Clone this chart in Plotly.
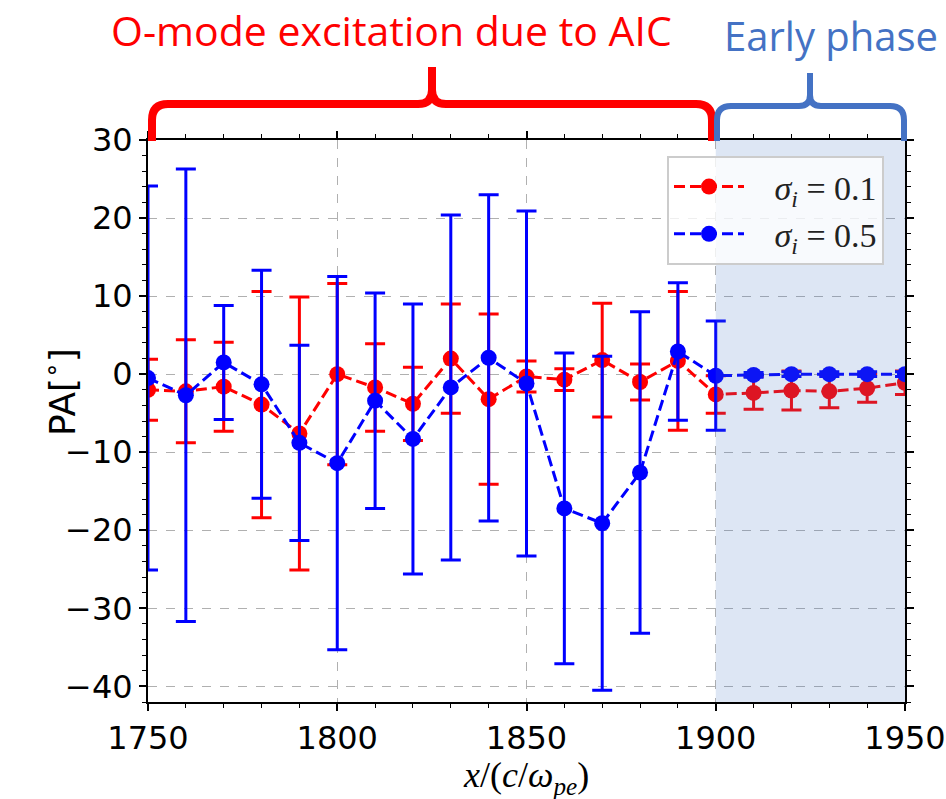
import plotly.graph_objects as go

# ---------------- data ----------------
x_pos = [1750, 1760, 1770, 1780, 1790, 1800, 1810, 1820, 1830, 1840, 1850,
         1860, 1870, 1880, 1890, 1900, 1910, 1920, 1930, 1940, 1950]

pa_sigma01 = [-2.0, -2.2, -1.6, -3.9, -7.6, 0.0, -1.7, -3.8, 2.0, -3.2, -0.3,
              -0.7, 1.8, -1.0, 1.7, -2.6, -2.4, -2.1, -2.2, -1.8, -1.1]
err_sigma01 = [3.9, 6.6, 5.7, 14.5, 17.5, 11.6, 5.6, 4.7, 7.0, 10.9, 2.0,
               1.4, 7.3, 2.3, 8.9, 2.4, 2.1, 2.5, 2.1, 1.8, 1.5]

pa_sigma05 = [-0.5, -2.7, 1.5, -1.3, -8.8, -11.4, -3.4, -8.3, -1.7, 2.1, -1.2,
              -17.2, -19.1, -12.6, 2.9, -0.2, -0.1, 0.0, 0.0, 0.0, 0.0]
err_sigma05 = [24.6, 29.0, 7.3, 14.6, 12.5, 23.9, 13.8, 17.3, 22.1, 20.9, 22.1,
               19.9, 21.4, 20.6, 8.8, 7.0, 0.3, 0.3, 0.3, 0.3, 0.3]

NB = "\u00a0"
series_names = [f"{NB}{NB}{NB}<i>σ</i><sub><i>i</i></sub>{NB}={NB}0.1",
                f"{NB}{NB}{NB}<i>σ</i><sub><i>i</i></sub>{NB}={NB}0.5"]
x_ticks = [1750, 1800, 1850, 1900, 1950]
y_ticks = [-40, -30, -20, -10, 0, 10, 20, 30]
aic_label = "O-mode excitation due to AIC"
early_label = "Early phase"
aic_range = [1750, 1900]
early_range = [1900, 1950]

# ---------------- layout geometry ----------------
W, H = 946, 799
L, R, T, B = 148, 905, 140, 702


def pxp(xp):
    return (xp - L) / (R - L)


def pyp(yp):
    return (B - yp) / (B - T)


def brace(x0, xm, x1, yh, ytop, ybot, r, rm):
    pts = []
    pts.append(f"M {pxp(x0)},{pyp(ybot)}")
    pts.append(f"L {pxp(x0)},{pyp(yh + r)}")
    pts.append(f"Q {pxp(x0)},{pyp(yh)} {pxp(x0 + r)},{pyp(yh)}")
    pts.append(f"L {pxp(xm - rm)},{pyp(yh)}")
    pts.append(f"Q {pxp(xm)},{pyp(yh)} {pxp(xm)},{pyp(yh - rm)}")
    pts.append(f"L {pxp(xm)},{pyp(ytop)}")
    pts.append(f"M {pxp(xm)},{pyp(yh - rm)}")
    pts.append(f"Q {pxp(xm)},{pyp(yh)} {pxp(xm + rm)},{pyp(yh)}")
    pts.append(f"L {pxp(x1 - r)},{pyp(yh)}")
    pts.append(f"Q {pxp(x1)},{pyp(yh)} {pxp(x1)},{pyp(yh + r)}")
    pts.append(f"L {pxp(x1)},{pyp(ybot)}")
    return " ".join(pts)


fig = go.Figure()

fig.add_trace(go.Scatter(
    x=x_pos, y=pa_sigma01, name=series_names[0], mode="lines+markers",
    line=dict(color="#ff0000", width=3, dash="11px,5px"),
    marker=dict(color="#ff0000", size=16, symbol="circle"),
    error_y=dict(type="data", array=err_sigma01, visible=True,
                 color="#ff0000", thickness=3, width=10),
))
fig.add_trace(go.Scatter(
    x=x_pos, y=pa_sigma05, name=series_names[1], mode="lines+markers",
    line=dict(color="#0000ff", width=3, dash="11px,5px"),
    marker=dict(color="#0000ff", size=16, symbol="circle"),
    error_y=dict(type="data", array=err_sigma05, visible=True,
                 color="#0000ff", thickness=3, width=10),
))

tick_font = dict(family="DejaVu Sans", size=32, color="black")

fig.update_xaxes(
    range=[1750, 1950], tickvals=x_ticks, ticktext=[str(v) for v in x_ticks],
    ticks="outside", ticklen=7, tickwidth=1.5, tickcolor="black",
    showline=True, linecolor="black", linewidth=2, mirror="ticks",
    showgrid=True, gridcolor="#b0b0b0", griddash="dash", gridwidth=1,
    zeroline=False, tickfont=tick_font, automargin=False,
    minor=dict(dtick=10, tick0=1750, ticks="outside", ticklen=4, tickwidth=1,
               tickcolor="black", showgrid=False),
)
fig.update_yaxes(
    range=[-42, 30], tickvals=y_ticks, ticktext=[("−" + str(-v)) if v < 0 else str(v) for v in y_ticks],
    ticks="outside", ticklen=7, tickwidth=1.5, tickcolor="black",
    showline=True, linecolor="black", linewidth=2, mirror="ticks",
    showgrid=True, gridcolor="#b0b0b0", griddash="dash", gridwidth=1,
    zeroline=False, tickfont=tick_font, automargin=False,
    minor=dict(dtick=2, tick0=0, ticks="outside", ticklen=4, tickwidth=1,
               tickcolor="black", showgrid=False),
)

shapes = [
    dict(type="rect", xref="x", yref="paper", x0=early_range[0], x1=early_range[1],
         y0=0, y1=1, fillcolor="#4472C4", opacity=0.18, line=dict(width=0),
         layer="above"),
    dict(type="path", xref="paper", yref="paper",
         path=brace(152, 432, 712, 104, 67, 141, 16, 14),
         line=dict(color="#ff0000", width=8), layer="above"),
    dict(type="path", xref="paper", yref="paper",
         path=brace(717, 810, 904, 106, 73, 141, 14, 11),
         line=dict(color="#4472C4", width=6), layer="above"),
]

annotations = [
    dict(text=aic_label, xref="paper", yref="paper", x=pxp(391), y=pyp(30),
         xanchor="center", yanchor="middle", showarrow=False,
         font=dict(family="Open Sans", size=41, color="#ff0000")),
    dict(text=early_label, xref="paper", yref="paper", x=pxp(831), y=pyp(35),
         xanchor="center", yanchor="middle", showarrow=False,
         font=dict(family="Open Sans", size=40, color="#4472C4")),
    dict(text="PA[<sup>∘</sup>]", xref="paper", yref="paper", x=pxp(60), y=pyp(392),
         xanchor="center", yanchor="middle", showarrow=False, textangle=-90,
         font=dict(family="DejaVu Sans", size=36, color="black")),
    dict(text="<i>x</i>/(<i>c</i>/<i>ω</i><sub><i>pe</i></sub>)",
         xref="paper", yref="paper", x=pxp(526), y=pyp(777),
         xanchor="center", yanchor="middle", showarrow=False,
         font=dict(family="Liberation Serif", size=36, color="black")),
]

fig.update_layout(
    width=W, height=H, autosize=False,
    margin=dict(l=L, r=W - R, t=T, b=H - B),
    paper_bgcolor="white", plot_bgcolor="white",
    shapes=shapes, annotations=annotations,
    showlegend=True,
    legend=dict(x=pxp(667), y=pyp(156), xanchor="left", yanchor="top",
                bgcolor="rgba(255,255,255,0.8)", bordercolor="#cccccc", borderwidth=2,
                font=dict(family="Liberation Serif", size=34, color="#222222"),
                itemwidth=70, tracegroupgap=0),
)

fig.write_html("out.html")
